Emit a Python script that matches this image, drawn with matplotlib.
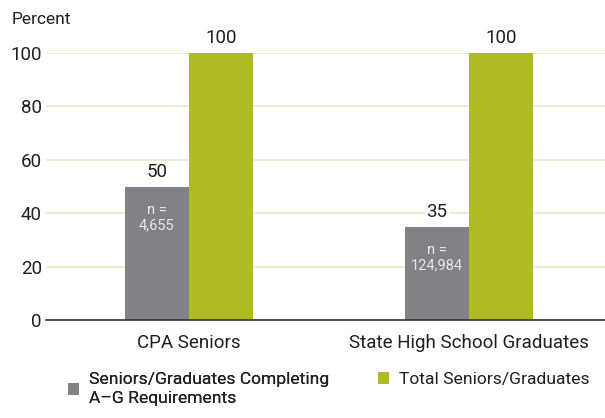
import matplotlib
matplotlib.use("Agg")
import matplotlib.pyplot as plt
import numpy as np
from matplotlib.patches import Patch

categories = ["CPA Seniors", "State High School Graduates"]
completing = [50, 35]
total = [100, 100]
n_labels = ["n =\n4,655", "n =\n124,984"]
series_names = ["Seniors/Graduates Completing\nA\u2013G Requirements", "Total Seniors/Graduates"]
yticks = [0, 20, 40, 60, 80, 100]

plt.rcParams['font.family'] = ['Roboto', 'DejaVu Sans']

gray = "#818285"
green = "#aebb22"
txt = "#231f20"

fig = plt.figure(figsize=(6.05, 4.18), dpi=100)
ax = fig.add_axes([46/605, 1-320/418, (605-46)/605, (320-53)/418])

x = np.arange(len(categories))
w = 0.2286
ax.bar(x - w/2, completing, w, color=gray, zorder=3)
ax.bar(x + w/2, total, w, color=green, zorder=3)

for xi, v in zip(x - w/2, completing):
    ax.text(xi, v + 2.2, f"{v}", ha="center", va="bottom", fontsize=13.5, color=txt,
            zorder=4, bbox=dict(facecolor="white", edgecolor="none", pad=1))
for xi, v in zip(x + w/2, total):
    ax.text(xi, v + 2.2, f"{v}", ha="center", va="bottom", fontsize=13.5, color=txt, zorder=4)
for xi, v, lab in zip(x - w/2, completing, n_labels):
    ax.text(xi, v - 6, lab, ha="center", va="top", fontsize=10.5, color="#e6e6e6",
            zorder=4, linespacing=1.2)

ax.set_xlim(-0.51, 1.486)
ax.set_ylim(0, 100)
ax.set_yticks(yticks)
ax.set_xticks(x)
ax.set_xticklabels(categories)
ax.tick_params(axis="both", length=0, labelsize=13.5, colors=txt)
ax.tick_params(axis="x", pad=10)
ax.tick_params(axis="y", pad=3)
ax.yaxis.grid(True, color="#e6ebc6", linewidth=1.2, zorder=0)
ax.set_axisbelow(True)
for s in ["left", "right", "top"]:
    ax.spines[s].set_visible(False)
ax.spines["bottom"].set_color("#333333")
ax.spines["bottom"].set_linewidth(1.2)
ax.spines["bottom"].set_zorder(5)

fig.text(12/605, 1-20/418, "Percent", fontsize=12.5, color=txt, va="center", ha="left")

handles = [Patch(facecolor=gray), Patch(facecolor=green)]
common = dict(frameon=False, fontsize=12.6, handlelength=0.65, handleheight=0.65,
              handletextpad=0.55, labelcolor=txt, borderpad=0, borderaxespad=0)
leg1 = fig.legend([handles[0]], [series_names[0]], loc="upper left",
                  bbox_to_anchor=(68/605, 1-372/418), **common)
for t in leg1.get_texts():
    t.set_linespacing(1.35)
leg2 = fig.legend([handles[1]], [series_names[1]], loc="upper left",
                  bbox_to_anchor=(378/605, 1-372/418), **common)
fig.add_artist(leg1)

fig.savefig("out.png", dpi=100)
